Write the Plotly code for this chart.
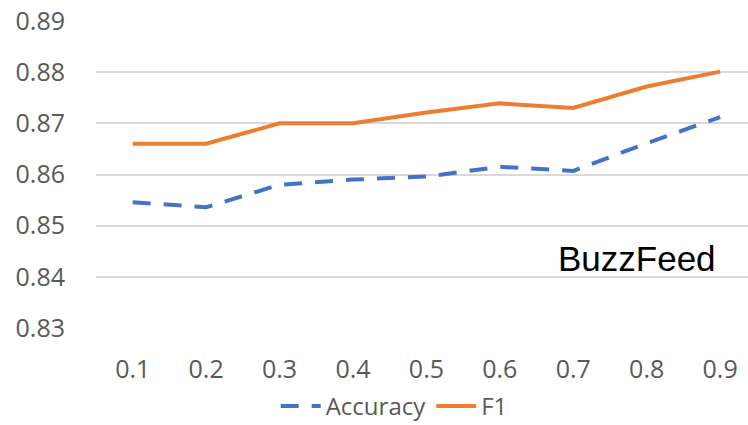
import plotly.graph_objects as go

# Threshold values on the x axis
thresholds = ["0.1", "0.2", "0.3", "0.4", "0.5", "0.6", "0.7", "0.8", "0.9"]

# Scores per threshold
accuracy = [0.8546, 0.8536, 0.8580, 0.8590, 0.8596, 0.8615, 0.8607, 0.8661, 0.8712]
f1 = [0.866, 0.866, 0.870, 0.870, 0.8721, 0.8739, 0.8730, 0.8772, 0.8801]

y_ticks = [0.83, 0.84, 0.85, 0.86, 0.87, 0.88, 0.89]

BLUE = "#4472C4"
ORANGE = "#ED7D31"
TICK_GRAY = "#595959"
GRID = "#D9D9D9"

fig = go.Figure()
fig.add_trace(go.Scatter(
    x=thresholds, y=accuracy, name="Accuracy", mode="lines",
    line=dict(color=BLUE, width=4, dash="18px,13px"),
))
fig.add_trace(go.Scatter(
    x=thresholds, y=f1, name="F1", mode="lines",
    line=dict(color=ORANGE, width=4),
))

fig.add_annotation(
    x=6.87, y=0.8435, xref="x", yref="y", text="BuzzFeed", showarrow=False,
    font=dict(family="Liberation Sans, Arial, sans-serif", size=35, color="black"),
)

fig.update_layout(
    width=748, height=425,
    margin=dict(l=96, r=0, t=21, b=97, autoexpand=False),
    paper_bgcolor="white", plot_bgcolor="white",
    font=dict(family="Open Sans, sans-serif", color=TICK_GRAY, size=25),
    showlegend=True,
    legend=dict(
        orientation="h", xref="container", yref="paper",
        x=0.527, xanchor="center", y=-0.255, yanchor="middle",
        font=dict(size=24, color=TICK_GRAY), itemwidth=40,
        tracegroupgap=0,
    ),
    xaxis=dict(
        type="category", range=[-0.5, 8.38], showgrid=False, zeroline=False,
        showline=False, ticks="", ticklabelstandoff=24,
        tickfont=dict(size=25, color=TICK_GRAY),
    ),
    yaxis=dict(
        range=[0.83, 0.89], tickvals=y_ticks, ticktext=[f"{v:.2f}" for v in y_ticks],
        showgrid=True, gridcolor=GRID, gridwidth=1.5, zeroline=False,
        showline=False, ticks="", ticklabelstandoff=30,
        tickfont=dict(size=25, color=TICK_GRAY),
    ),
)

fig.write_html("out.html")
